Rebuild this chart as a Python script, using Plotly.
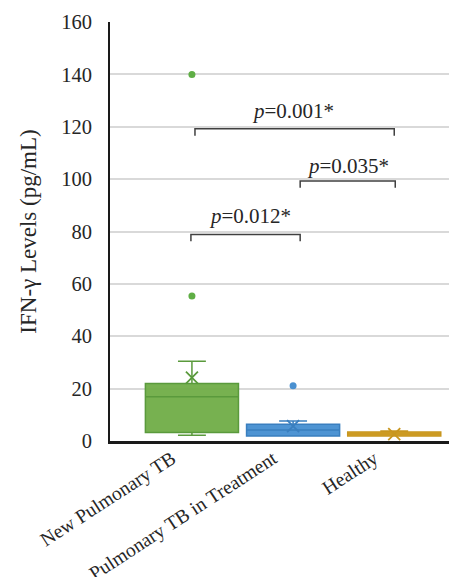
import plotly.graph_objects as go

categories = ["New Pulmonary TB", "Pulmonary TB in Treatment", "Healthy"]
q1 = [3.2, 1.9, 1.9]
median = [16.9, 4.2, 2.7]
q3 = [22.0, 6.4, 3.4]
lower = [2.2, 1.9, 1.9]
upper = [30.5, 7.6, 3.8]
means = [24.2, 5.7, 2.6]
outlier_cat = ["New Pulmonary TB", "New Pulmonary TB", "Pulmonary TB in Treatment"]
outlier_val = [140.0, 55.4, 21.1]
outlier_idx = [0, 0, 1]

fills = ["rgba(112,173,71,0.95)", "rgba(68,142,209,0.95)", "rgba(214,162,38,0.95)"]
edges = ["#5a9a3c", "#3a7fbf", "#c8961e"]
marker_cols = ["#5fae45", "#4a90d0", "#d4a12a"]

# significance brackets: (x0, x1, y, text, text_x, text_y)
brackets = [
    (0.03, 2.0, 119.2, "<i>p</i>=0.001*", 1.0, 126.0),
    (1.07, 2.01, 99.3, "<i>p</i>=0.035*", 1.545, 105.0),
    (-0.01, 1.07, 78.9, "<i>p</i>=0.012*", 0.57, 85.9),
]

fig = go.Figure()
for i, c in enumerate(categories):
    fig.add_trace(go.Box(
        x=[c], q1=[q1[i]], median=[median[i]], q3=[q3[i]],
        lowerfence=[lower[i]], upperfence=[upper[i]],
        boxpoints=False, width=0.92, whiskerwidth=0.3,
        fillcolor=fills[i], line=dict(color=edges[i], width=1.5),
        showlegend=False, hoverinfo="skip",
    ))
    fig.add_trace(go.Scatter(
        x=[c], y=[means[i]], mode="markers",
        marker=dict(symbol="x-thin-open", size=12, color=edges[i],
                    line=dict(color=edges[i], width=1.8)),
        showlegend=False, hoverinfo="skip",
    ))

fig.add_trace(go.Scatter(
    x=outlier_cat, y=outlier_val, mode="markers",
    marker=dict(size=7, color=[marker_cols[k] for k in outlier_idx]),
    showlegend=False, hoverinfo="skip",
))

for x0, x1, y, txt, tx, ty in brackets:
    fig.add_shape(type="path",
                  path=f"M {x0},{y-2.6} L {x0},{y} L {x1},{y} L {x1},{y-2.6}",
                  xref="x", yref="y", line=dict(color="#404040", width=1.5))
    fig.add_annotation(x=tx, y=ty, text=txt, showarrow=False,
                       xref="x", yref="y", yanchor="middle",
                       font=dict(family="Liberation Serif", size=21, color="#262626"))

fig.update_layout(
    width=457, height=577,
    margin=dict(l=102, r=4, t=14, b=144),
    plot_bgcolor="white", paper_bgcolor="white",
    boxmode="overlay",
    font=dict(family="Liberation Serif", size=20, color="#262626"),
    xaxis=dict(type="category", categoryorder="array", categoryarray=categories,
               range=[-0.81, 2.66], showgrid=False, showline=True, automargin=False,
               linecolor="#1a1a1a", linewidth=2.5, tickangle=-33,
               ticklabelshift=-20, ticklabelstandoff=-4,
               tickfont=dict(family="Liberation Serif", size=19.5), ticks=""),
    yaxis=dict(range=[0, 160], tickvals=[0, 20, 40, 60, 80, 100, 120, 140, 160],
               showgrid=True, gridcolor="#d9d9d9", gridwidth=1.5, automargin=False,
               showline=True, linecolor="#1a1a1a", linewidth=2,
               zeroline=False, ticks="", ticklabelstandoff=12,
               tickfont=dict(family="Liberation Serif", size=20.5),
               title=dict(text="IFN-γ Levels (pg/mL)", standoff=18,
                          font=dict(family="Liberation Serif", size=23))),
)

fig.write_html("out.html")
